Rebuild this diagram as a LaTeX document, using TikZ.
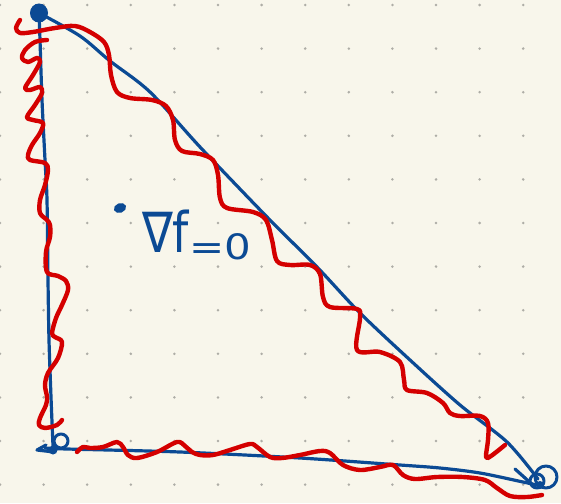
\documentclass[tikz,border=0pt]{standalone}
\usepackage{fontspec}
\newfontfamily\handfont{DejaVu Sans}
\usetikzlibrary{shapes.geometric}
\definecolor{paper}{HTML}{F8F6EB}
\definecolor{ink}{HTML}{0B4A94}
\definecolor{redink}{HTML}{D40000}
\definecolor{griddot}{HTML}{AEADA6}
\tikzset{
  edge/.style={ink, line width=3.2pt, line cap=round, line join=round},
  wiggle/.style={redink, line width=4.4pt, line cap=round, line join=round},
}
\begin{document}
\begin{tikzpicture}[x=1pt,y=-1pt]
    % Paper and dot grid
    \fill[paper] (0,0) rectangle (561,503);
    \useasboundingbox (0,0) rectangle (561,503);
    \foreach \i in {0,...,12} \foreach \j in {0,...,11} \fill[griddot] (43.6*\i,5+43.6*\j) circle (1.4);

    % Corners of the triangle
    \coordinate (top) at (39,13);
    \coordinate (bl) at (53,446);
    \coordinate (br) at (538,479);

    % Triangle edges
    \draw[edge] plot[smooth] coordinates {(top) (40,40) (42,100) (45,160) (47,200) (48,280) (49,340) (51,397) (bl)};
    \draw[edge] plot[smooth] coordinates {(top) (80,36) (110,61) (150,92) (200,147) (267,217) (317,267) (360,313) (410,360) (460,405) (507,442) (br)};
    \draw[edge] plot[smooth] coordinates {(45,448) (67,449) (180,452) (300,458) (400,465) (440,468) (480,473) (523,482) (537,485)};

    % Corner marks
    \fill[ink] (top) ellipse (9 and 9.5);
    \draw[edge, line width=3pt] (61,441) circle (7);
    \draw[edge] (54,452) -- (37,450) -- (46,445);
    \fill[ink] (53,450) circle (4.5);
    \draw[edge, line width=3pt] (546,477) circle (11);
    \draw[edge, line width=3pt] (537,481) circle (7);
    \draw[edge] (515,469) -- (534,486);
    \fill[ink] (540,485) circle (4);

    % Red wiggles along the edges
    \draw[wiggle] plot[smooth, tension=0.55] coordinates {(20,20) (16,28) (20,33) (33,32) (55,28) (75,26) (90,32) (104,42) (109,55) (111,75) (117,92) (130,98) (152,100) (166,106) (173,120) (175,140) (182,151) (200,154) (213,160) (218,175) (220,198) (227,208) (253,212) (266,220) (272,240) (277,261) (290,265) (310,265) (320,274) (323,297) (330,307) (357,309) (360,318) (357,350) (380,352) (400,362) (404,380) (407,390) (427,393) (443,403) (450,413) (460,416) (480,416) (488,423) (488,440) (486,457) (491,456) (505,445)};
    \draw[wiggle] plot[smooth, tension=0.55] coordinates {(47,40) (35,42) (25,50) (22,58) (28,62) (37,58) (40,62) (33,75) (25,88) (30,90) (40,87) (42,93) (35,105) (27,117) (33,120) (43,123) (40,133) (32,145) (28,155) (30,160) (45,163) (48,170) (45,185) (40,200) (40,213) (47,220) (50,225) (50,237) (46,252) (47,272) (58,276) (66,281) (68,290) (62,305) (56,318) (52,333) (55,337) (62,342) (58,358) (48,373) (45,385) (47,397) (46,405) (40,418) (39,425) (45,428) (57,425) (62,420)};
    \draw[wiggle] plot[smooth, tension=0.55] coordinates {(77,452) (83,447) (90,448) (103,447) (117,442) (123,447) (128,455) (137,458) (157,452) (177,442) (185,446) (192,452) (200,455) (213,455) (230,450) (250,444) (257,447) (270,457) (282,458) (300,455) (320,451) (330,453) (343,465) (360,470) (380,467) (393,465) (403,475) (415,479) (437,477) (463,477) (485,480) (497,488) (510,496) (527,497) (542,495)};

    % Critical point
    \node[ellipse, draw=ink, fill=ink, line width=1.5pt, inner sep=0pt, minimum width=11pt, minimum height=8pt, rotate=20] (crit) at (120,208) {};
    \node[ink, inner sep=0pt, anchor=base west] (grad) at (142,252) {\handfont\scalebox{4.6}[5.6]{∇f}\raisebox{-7pt}{\scalebox{4.2}[3.5]{=0}}};
\end{tikzpicture}
\end{document}
